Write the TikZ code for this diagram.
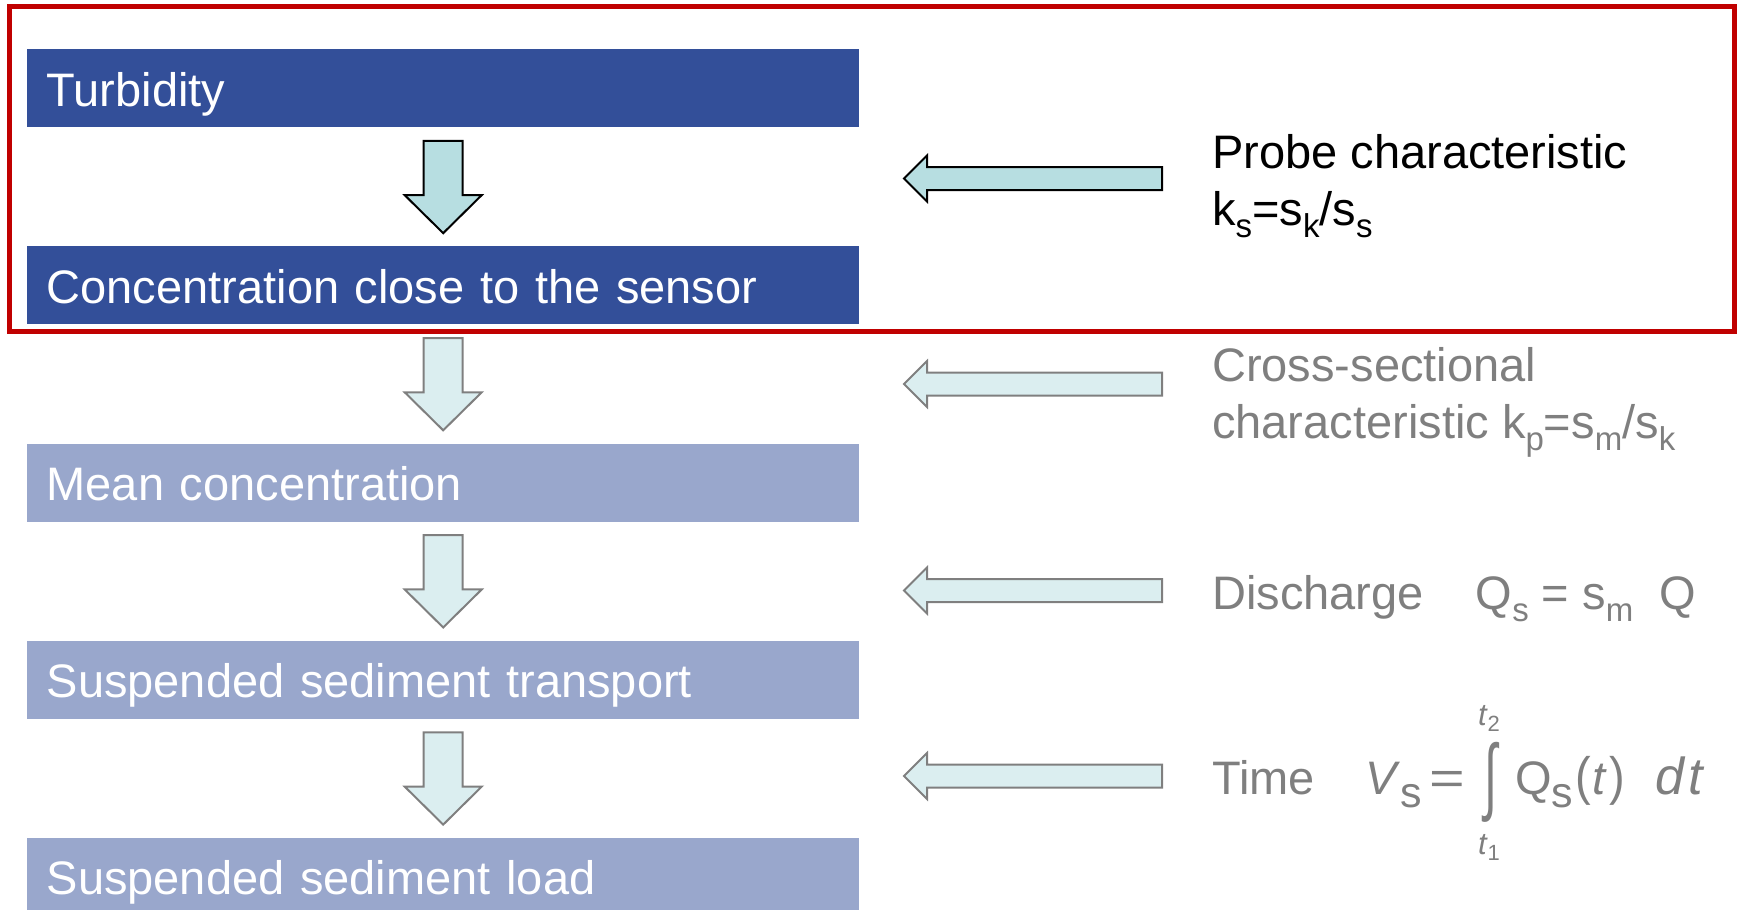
\documentclass[tikz,border=0pt]{standalone}
\usepackage{fontspec}
\setmainfont{Liberation Sans}
\usetikzlibrary{positioning,calc}
\definecolor{stageblue}{RGB}{51,79,153}
\definecolor{stagepale}{RGB}{153,167,204}
\definecolor{flowcyan}{RGB}{183,222,225}
\definecolor{flowpale}{RGB}{219,238,240}
\definecolor{framered}{RGB}{192,0,0}
\definecolor{fadegray}{RGB}{127,127,127}
% subscript as the slide sets it
\newcommand{\subs}[1]{\raisebox{-12pt}{\fontsize{33pt}{33pt}\selectfont #1}}
% block arrow from one stage down to the next
\newcommand{\flowdown}[3]{%
  \draw[#1] let \p1=(#2.south), \p2=(#3.north) in
    (\x1-19.5pt,\y1-13.5pt) -- (\x1+19.5pt,\y1-13.5pt) -- (\x1+19.5pt,\y2+51pt)
    -- (\x1+38.5pt,\y2+51pt) -- (\x2,\y2+13pt) -- (\x1-38.5pt,\y2+51pt)
    -- (\x1-19.5pt,\y2+51pt) -- cycle;}
% block arrow pointing left, tail to tip
\newcommand{\flowleft}[3]{%
  \draw[#1] let \p1=(#2), \p2=(#3) in
    (\x1,\y1+11.5pt) -- (\x2+23pt,\y1+11.5pt) -- (\x2+23pt,\y1+23pt) -- (\x2,\y1)
    -- (\x2+23pt,\y1-23pt) -- (\x2+23pt,\y1-11.5pt) -- (\x1,\y1-11.5pt) -- cycle;}
\begin{document}
\begin{tikzpicture}[x=1pt,y=1pt,
    node distance=118.75pt,
    stagebox/.style={text=white, font=\fontsize{47pt}{56pt}\selectfont,
      minimum height=78pt, inner xsep=19.5pt, inner ysep=0pt, text width=793pt,
      align=left, text height=44pt, text depth=8pt},
    solidflow/.style={draw=black, fill=flowcyan, line width=2pt},
    fadedflow/.style={draw=fadegray, fill=flowpale, line width=2pt},
    rtext/.style={anchor=base west, inner sep=0pt, font=\fontsize{47pt}{56pt}\selectfont},
    faded/.style={rtext, text=fadegray},
    limit/.style={text=fadegray, font=\fontsize{31pt}{31pt}\selectfont, inner sep=0pt}]
  \path[use as bounding box] (0,0) rectangle (1740,-910);

  % stages
  \node[stagebox, fill=stageblue, anchor=north west] (turb) at (27,-49) {Turbidity};
  \node[stagebox, fill=stageblue, below=of turb] (conc) {Concentration close to the sensor};
  \node[stagebox, fill=stagepale, below=of conc] (mean) {Mean concentration};
  \node[stagebox, fill=stagepale, below=of mean] (transp) {Suspended sediment transport};
  \node[stagebox, fill=stagepale, below=of transp] (load) {Suspended sediment load};

  \flowdown{solidflow}{turb}{conc}
  \flowdown{fadedflow}{conc}{mean}
  \flowdown{fadedflow}{mean}{transp}
  \flowdown{fadedflow}{transp}{load}

  % factors on the right
  \node[rtext] (probe) at (1212,-168.5) {Probe characteristic};
  \node[rtext] (probeeq) at (1212,-225) {k\subs{s}=s\subs{k}/s\subs{s}};
  \node[faded] (cross) at (1212,-381) {Cross-sectional};
  \node[faded] (crosseq) at (1212,-438) {characteristic k\subs{p}=s\subs{m}/s\subs{k}};
  \node[faded] (discharge) at (1212,-609) {Discharge\hspace{52pt}Q\subs{s} = s\subs{m}\hspace{26pt}Q};
  \node[faded] (time) at (1212,-794) {Time};
  \node[faded] (vol) at (1365,-794) {\textit{V}\raisebox{-13pt}{\fontsize{43pt}{43pt}\selectfont s}};
  \node[faded, anchor=base] (equals) at (1447,-794) {\scalebox{1.3}[1]{=}};
  \node[text=fadegray, font=\fontsize{47pt}{47pt}\selectfont, inner sep=0pt] (intsign) at (1490.5,-782)
    {\raisebox{0pt}[\dimexpr\height-14pt\relax][\dimexpr\depth-14pt\relax]{\scalebox{1}[1.8]{∫}}};
  \node[limit] (tup) at (1489,-718) {\textit{t}\raisebox{-6pt}{\fontsize{22pt}{22pt}\selectfont 2}};
  \node[limit] (tlow) at (1489,-847) {\textit{t}\raisebox{-6pt}{\fontsize{22pt}{22pt}\selectfont 1}};
  \node[faded] (flux) at (1515,-794) {Q\raisebox{-13pt}{\fontsize{43pt}{43pt}\selectfont s}\kern2pt\scalebox{1}[1.12]{(}\kern2pt\textit{t}\kern2pt\scalebox{1}[1.12]{)}\hspace{30pt}{\fontsize{52pt}{52pt}\selectfont\textit{d}\kern3pt\textit{t}}};

  \foreach \name/\yy/\sty in {probe/178.5/solidflow, cross/384/fadedflow,
      discharge/590.5/fadedflow, time/776/fadedflow}{
    \coordinate (\name tail) at (1162,-\yy);
    \coordinate (\name tip) at (904,-\yy);
    \flowleft{\sty}{\name tail}{\name tip}
  }

  % highlighted part
  \draw[framered, line width=5pt] (9.5,-6) rectangle (1734.5,-331.5);
\end{tikzpicture}
\end{document}
